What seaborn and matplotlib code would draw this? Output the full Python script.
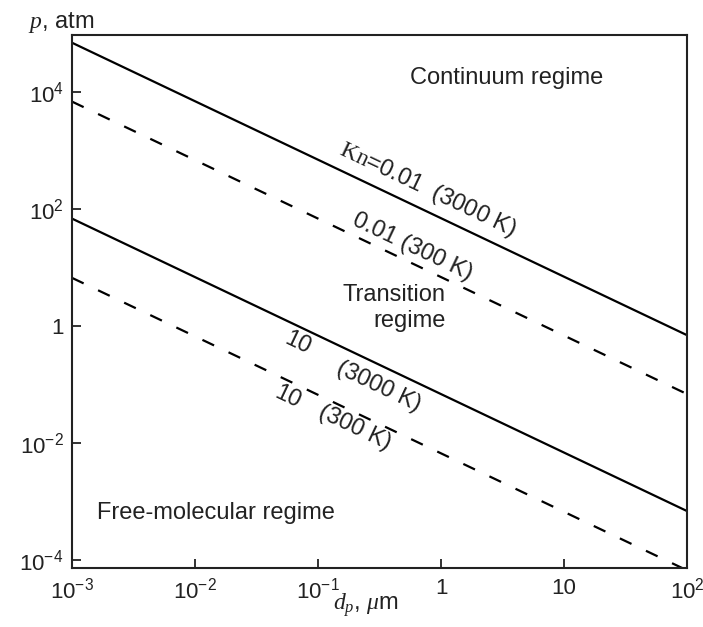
import matplotlib
matplotlib.use("Agg")
import matplotlib.pyplot as plt
import pandas as pd
import seaborn as sns

# particle diameter (um) at the two ends of each line
d_um = [1e-3, 1e2]

# pressure (atm) at those diameters
p_kn001_3000 = [6.9e4, 0.69]
p_kn001_300 = [6.8e3, 0.068]
p_kn10_3000 = [68.0, 6.8e-4]
p_kn10_300 = [6.6, 6.6e-5]

x_ticks = [1e-3, 1e-2, 1e-1, 1, 10, 1e2]
x_tick_labels = [r"$\mathdefault{10^{-3}}$", r"$\mathdefault{10^{-2}}$",
                 r"$\mathdefault{10^{-1}}$", "1", "10", r"$\mathdefault{10^{2}}$"]
y_ticks = [1e-4, 1e-2, 1, 1e2, 1e4]
y_tick_labels = [r"$\mathdefault{10^{-4}}$", r"$\mathdefault{10^{-2}}$", "1",
                 r"$\mathdefault{10^{2}}$", r"$\mathdefault{10^{4}}$"]

sns.set_style("ticks")
plt.rcParams["font.family"] = ["Liberation Sans", "DejaVu Sans"]
plt.rcParams["mathtext.fontset"] = "custom"
plt.rcParams["mathtext.rm"] = "Liberation Sans"
plt.rcParams["mathtext.it"] = "Liberation Serif:italic"
plt.rcParams["mathtext.tt"] = "Liberation Serif"

fig = plt.figure(figsize=(7.03, 6.27), dpi=100)
ax = fig.add_axes([0.1024, 0.0941, 0.875, 0.850])

series = [
    ("Kn=0.01, 3000 K", p_kn001_3000, "solid"),
    ("Kn=0.01, 300 K", p_kn001_300, "dashed"),
    ("Kn=10, 3000 K", p_kn10_3000, "solid"),
    ("Kn=10, 300 K", p_kn10_300, "dashed"),
]
for name, p, style in series:
    df = pd.DataFrame({"d": d_um, "p": p})
    line_kw = {"dashes": (5.8, 7.2)} if style == "dashed" else {}
    sns.lineplot(data=df, x="d", y="p", ax=ax, color="black", lw=1.6,
                 estimator=None, sort=False, legend=False)
    if style == "dashed":
        ax.lines[-1].set_dashes((5.8, 7.2))

ax.set_xscale("log")
ax.set_yscale("log")
ax.set_xlim(1e-3, 1e2)
ax.set_ylim(10 ** -4.14, 10 ** 4.97)
ax.set_xticks(x_ticks, x_tick_labels)
ax.set_yticks(y_ticks, y_tick_labels)
ax.minorticks_off()
ax.tick_params(direction="in", length=6.5, width=1.3, labelsize=16,
               colors="#222222", pad=7)
ax.tick_params(axis="y", pad=6)
for s in ax.spines.values():
    s.set_linewidth(1.5)
    s.set_color("#222222")
ax.set_xlabel("")
ax.set_ylabel("")

fig.text(0.040, 0.955, r"$p$, atm", fontsize=17, ha="left", va="baseline",
         color="#222222")
fig.text(0.474, 0.027, r"$d_p$, $\mu$m", fontsize=17, ha="left",
         va="baseline", color="#222222")

txt = dict(transform=ax.transAxes, fontsize=17, color="#222222")
ax.text(0.706, 0.919, "Continuum regime", ha="center", va="center", **txt)
ax.text(0.607, 0.488, "Transition\nregime", ha="right", va="center",
        multialignment="right", **txt)
ax.text(0.041, 0.103, "Free-molecular regime", ha="left", va="center", **txt)

rot = -25.4
ax.text(0.579, 0.709, r"$\mathtt{Kn}$=0.01  (3000 K)", ha="center",
        va="center", rotation=rot, **txt)
ax.text(0.553, 0.602, "0.01 (300 K)", ha="center", va="center",
        rotation=rot, **txt)
ax.text(0.367, 0.422, "10", ha="center", va="center", rotation=rot, **txt)
ax.text(0.498, 0.340, "(3000 K)", ha="center", va="center", rotation=rot, **txt)
ax.text(0.351, 0.321, "10", ha="center", va="center", rotation=rot, **txt)
ax.text(0.460, 0.263, "(300 K)", ha="center", va="center", rotation=rot, **txt)

fig.savefig("out.png", dpi=100, facecolor="white")
